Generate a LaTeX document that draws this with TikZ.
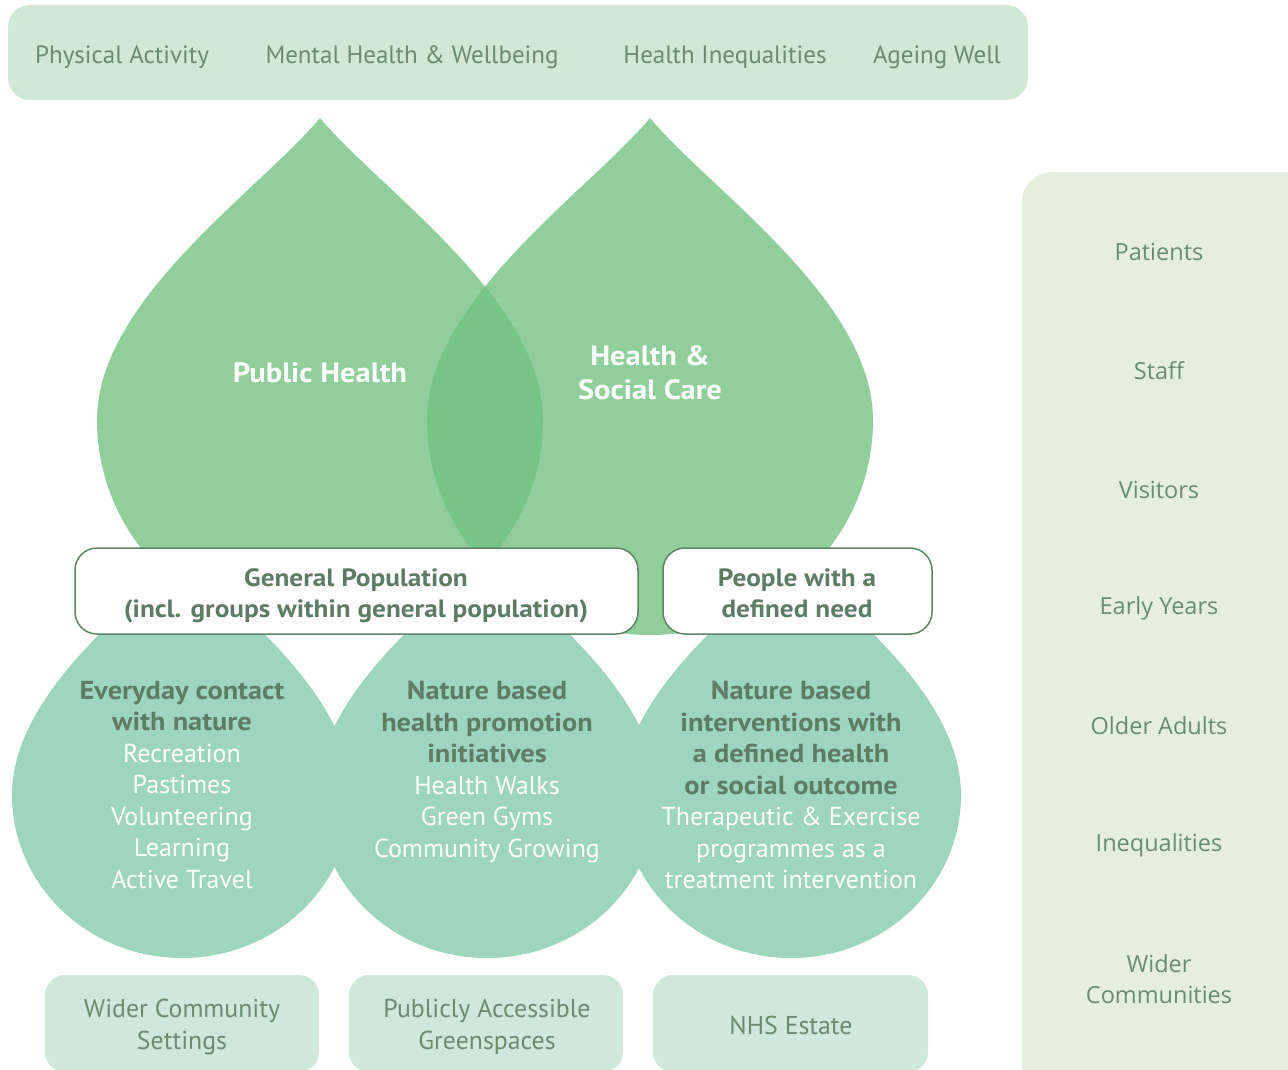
\documentclass[tikz,border=0pt]{standalone}
\usepackage{fontspec}
\setmainfont{PT Sans}
\newfontfamily\panelfont{Open Sans}
\definecolor{topbar}{HTML}{D1E8D4}
\definecolor{panel}{HTML}{E4F0DD}
\definecolor{dropgreen}{HTML}{90CF9B}
\definecolor{overlapgreen}{HTML}{76C486}
\definecolor{lowgreen}{HTML}{9ED5BE}
\definecolor{botbox}{HTML}{CFE8DA}
\definecolor{txtgrey}{HTML}{6B8B70}
\definecolor{txtdark}{HTML}{5E7C63}
\definecolor{boxline}{HTML}{5E8466}
\newcommand\bigdroppath{(0,118) .. controls (60,190) and (223,300) .. (223,420) .. controls (223,539) and (123,635) .. (0,635) .. controls (-123,635) and (-223,539) .. (-223,420) .. controls (-223,300) and (-60,190) .. (0,118) -- cycle}
\newcommand\smalldroppath{(0,555) .. controls (40,600) and (170,690) .. (170,795) .. controls (170,885) and (94,958) .. (0,958) .. controls (-94,958) and (-170,885) .. (-170,795) .. controls (-170,690) and (-40,600) .. (0,555) -- cycle}
\newcommand\widebold{\bfseries\addfontfeatures{FakeStretch=1.09}}
\tikzset{
  toptxt/.style={text=txtgrey, font=\fontsize{25}{28}\selectfont},
  paneltxt/.style={text=txtgrey, align=center, font=\panelfont\fontsize{23.5}{31}\selectfont},
  bigtxt/.style={text=white, align=center, font=\fontsize{28}{34}\selectfont\widebold},
  boxtxt/.style={text=txtdark, align=center, font=\fontsize{25}{31}\selectfont\widebold},
  droptxt/.style={text=white, align=center, font=\fontsize{26}{31.5}\selectfont},
  bottxt/.style={text=txtgrey, align=center, font=\fontsize{25.8}{32}\selectfont},
  whitebox/.style={fill=white, draw=boxline, line width=1.5pt, rounded corners=22pt},
}
\newcommand\dk[1]{\textcolor{txtdark}{\widebold #1}}
\begin{document}
\begin{tikzpicture}[x=1pt,y=-1pt]
\useasboundingbox (0,0) rectangle (1288,1070);
\clip (0,0) rectangle (1288,1070);
% top bar
\fill[topbar, rounded corners=22pt] (8,5) rectangle (1028,100);
\node[toptxt] (t1) at (122,57) {Physical Activity};
\node[toptxt] (t2) at (412,57) {Mental Health \& Wellbeing};
\node[toptxt] (t3) at (725,57) {Health Inequalities};
\node[toptxt] (t4) at (937,57) {Ageing Well};
% right panel
\fill[panel, rounded corners=30pt] (1022,172) rectangle (1320,1100);
\node[paneltxt] (p1) at (1159,252) {Patients};
\node[paneltxt] (p2) at (1159,371) {Staff};
\node[paneltxt] (p3) at (1159,490) {Visitors};
\node[paneltxt] (p4) at (1159,608) {Early Years};
\node[paneltxt] (p5) at (1159,726) {Older Adults};
\node[paneltxt] (p6) at (1159,845) {Inequalities};
\node[paneltxt] (p7) at (1159,979) {Wider\\Communities};
% big drops
\fill[dropgreen, shift={(320,0)}] \bigdroppath;
\fill[dropgreen, shift={(650,0)}] \bigdroppath;
\begin{scope}
  \clip[shift={(320,0)}] \bigdroppath;
  \fill[overlapgreen, shift={(650,0)}] \bigdroppath;
\end{scope}
\node[bigtxt] (ph) at (320,373) {Public Health};
\node[bigtxt] (hsc) at (650,373) {Health \&\\Social Care};
% lower drops
\fill[lowgreen, shift={(182,0)}] \smalldroppath;
\fill[lowgreen, shift={(487,0)}] \smalldroppath;
\fill[lowgreen, shift={(791,0)}] \smalldroppath;
% white boxes
\draw[whitebox] (75,548) rectangle (638,634);
\draw[whitebox] (663,548) rectangle (932,634);
\node[boxtxt] (gp) at (356,595.5) {General Population\\(incl. groups within general population)};
\node[boxtxt] (pn) at (797,593) {People with a\\defined need};
% drop texts
\node[droptxt] (d1) at (182,785) {\dk{Everyday contact}\\\dk{with nature}\\Recreation\\Pastimes\\Volunteering\\Learning\\Active Travel};
\node[droptxt] (d2) at (487,772) {\dk{Nature based}\\\dk{health promotion}\\\dk{initiatives}\\Health Walks\\Green Gyms\\Community Growing};
\node[droptxt] (d3) at (791,785) {\dk{Nature based}\\\dk{interventions with}\\\dk{a defined health}\\\dk{or social outcome}\\Therapeutic \& Exercise\\programmes as a\\treatment intervention};
% bottom boxes
\fill[botbox, rounded corners=20pt] (45,975) rectangle (319,1072);
\fill[botbox, rounded corners=20pt] (349,975) rectangle (623,1072);
\fill[botbox, rounded corners=20pt] (653,975) rectangle (928,1072);
\node[bottxt] (b1) at (182,1027) {Wider Community\\Settings};
\node[bottxt] (b2) at (487,1027) {Publicly Accessible\\Greenspaces};
\node[bottxt] (b3) at (791,1025) {NHS Estate};
\end{tikzpicture}
\end{document}
